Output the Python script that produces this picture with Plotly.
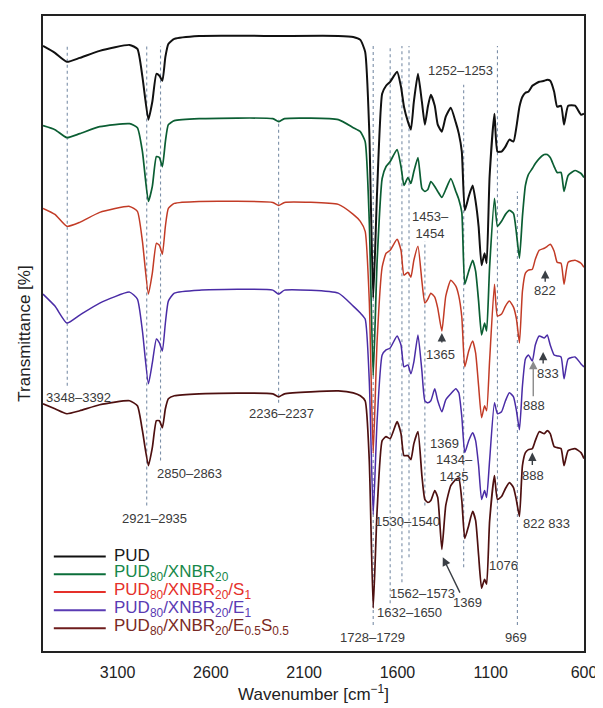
import plotly.graph_objects as go

# Wavenumber grid (cm^-1) shared by all spectra
wavenumber = [3500, 3436, 3372, 3303, 3196, 3036, 2994, 2967, 2935, 2914,
              2892, 2876, 2860, 2844, 2828, 2796, 2663, 2268, 2237, 2205,
              1917, 1837, 1799, 1773, 1751, 1730, 1709, 1682, 1661, 1639,
              1602, 1581, 1565, 1544, 1528, 1512, 1490, 1469, 1453, 1437,
              1421, 1400, 1384, 1362, 1341, 1314, 1287, 1271, 1255, 1239,
              1218, 1197, 1181, 1165, 1149, 1133, 1122, 1106, 1080, 1064,
              1042, 1021, 1000, 978, 962, 946, 930, 914, 898, 877,
              861, 840, 813, 797, 781, 760, 744, 723, 707, 685,
              648, 616, 600]

# Offset transmittance (a.u.)
t_pud = [607, 600, 591, 595, 602, 608, 604, 576, 533, 551,
         579, 577, 572, 596, 609, 614, 617, 617, 617, 617,
         617, 616, 613, 601, 521, 354, 461, 559, 567, 571,
         581, 566, 546, 531, 523, 551, 579, 551, 528, 546,
         558, 547, 528, 521, 536, 545, 530, 519, 501, 442,
         456, 467, 451, 426, 387, 399, 389, 476, 539, 501,
         501, 506, 513, 511, 526, 546, 556, 560, 561, 567,
         569, 571, 572, 573, 572, 561, 546, 547, 528, 547,
         547, 538, 539]

t_xnbr = [527, 523, 515, 519, 526, 529, 525, 501, 451, 466,
          496, 495, 486, 511, 528, 532, 534, 534, 531, 534,
          533, 525, 521, 511, 431, 276, 391, 474, 486, 491,
          503, 486, 467, 475, 469, 481, 495, 464, 461, 463,
          471, 466, 461, 455, 463, 474, 461, 453, 440, 368,
          381, 392, 381, 351, 317, 329, 321, 385, 454, 426,
          431, 438, 442, 439, 419, 394, 436, 467, 478, 484,
          489, 494, 498, 498, 495, 486, 480, 480, 461, 477,
          482, 479, 475]

t_s1 = [444, 438, 426, 430, 440, 446, 441, 411, 358, 379,
        409, 407, 398, 426, 444, 449, 451, 450, 447, 450,
        448, 438, 431, 421, 351, 198, 311, 385, 399, 402,
        413, 402, 377, 380, 375, 392, 406, 371, 349, 353,
        359, 355, 344, 321, 356, 372, 366, 356, 335, 285,
        301, 311, 299, 266, 234, 246, 241, 291, 368, 336,
        338, 346, 351, 345, 333, 309, 361, 379, 382, 383,
        393, 402, 404, 406, 408, 401, 390, 389, 368, 390,
        392, 389, 385]

t_e1 = [358, 346, 329, 337, 349, 360, 353, 321, 268, 289,
        313, 309, 301, 329, 351, 359, 362, 362, 358, 362,
        359, 346, 339, 333, 271, 137, 231, 297, 302, 304,
        316, 307, 285, 287, 278, 290, 317, 281, 251, 249,
        251, 263, 251, 240, 252, 258, 263, 259, 235, 199,
        211, 219, 211, 186, 152, 161, 154, 191, 249, 238,
        240, 251, 259, 255, 241, 222, 266, 293, 297, 291,
        307, 316, 314, 317, 307, 297, 296, 295, 273, 293,
        295, 288, 285]

t_e05s05 = [248, 243, 238, 241, 247, 251, 246, 221, 186, 204,
            231, 231, 224, 243, 253, 256, 258, 258, 255, 258,
            261, 259, 256, 251, 191, 43, 141, 211, 215, 213,
            230, 218, 196, 196, 192, 208, 220, 176, 152, 149,
            151, 161, 154, 102, 146, 166, 172, 173, 151, 113,
            126, 140, 131, 96, 63, 72, 67, 130, 176, 152,
            155, 163, 169, 164, 151, 135, 186, 199, 202, 203,
            211, 220, 218, 221, 218, 205, 204, 203, 186, 201,
            203, 199, 193]

series_names = ["PUD",
                "PUD<sub>80</sub>/XNBR<sub>20</sub>",
                "PUD<sub>80</sub>/XNBR<sub>20</sub>/S<sub>1</sub>",
                "PUD<sub>80</sub>/XNBR<sub>20</sub>/E<sub>1</sub>",
                "PUD<sub>80</sub>/XNBR<sub>20</sub>/E<sub>0.5</sub>S<sub>0.5</sub>"]
series_values = [t_pud, t_xnbr, t_s1, t_e1, t_e05s05]
line_colors = ["#111111", "#0b5e33", "#c23b26", "#4a2ca6", "#4e1010"]
key_colors = ["#111111", "#0b6e3a", "#e5302a", "#5a3bb3", "#6e1c1c"]
text_colors = ["#1a1a1a", "#17884a", "#e5302a", "#5a3bb3", "#7a2a24"]
line_widths = [2.0, 1.7, 1.5, 1.5, 1.7]

# Band guide lines: wavenumber, top value, bottom value
band_wn = [3370, 2944, 2870, 2237, 1730, 1639, 1576, 1538, 1453, 1245, 1064, 957]
band_top = [607, 607, 607, 533, 607, 607, 607, 607, 411, 568, 607, 461]
band_bottom = [266, 146, 191, 249, 26, 48, 69, 94, 146, 84, 94, 26]

# Text labels: text, wavenumber, value
label_text = ["3348–3392", "2921–2935", "2850–2863", "2236–2237", "1728–1729",
              "1632–1650", "1562–1573", "1530–1540", "1453–<br>1454", "1252–1253",
              "1076", "969", "1369", "1434–<br>1435", "1365", "822", "833",
              "888", "888", "822 833", "1369"]
label_wn = [3312, 2903, 2716, 2221, 1735, 1538, 1464, 1544, 1421, 1261,
            1032, 962, 1346, 1293, 1368, 808, 792, 866, 872, 803, 1224]
label_val = [254, 133, 178, 238, 14, 39, 58, 130, 427, 582,
             86, 14, 208, 184, 297, 362, 278, 246, 176, 128, 49]

# Arrows: tip (wn, value) and tail (wn, value)
arrow_tip_wn = [1362, 808, 819, 872, 877, 1357]
arrow_tip_val = [319, 382, 300, 291, 199, 94]
arrow_tail_wn = [1362, 808, 819, 872, 877, 1261]
arrow_tail_val = [308, 369, 287, 254, 185, 57]
arrow_colors = ["#3a3f45", "#3a3f45", "#3a3f45", "#8a8a8a", "#3a3f45", "#3a3f45"]

# Legend key layout (paper fractions of the plot area)
key_x0, key_x1, key_text_x = 0.020, 0.116, 0.128
key_rows = [0.149, 0.121, 0.093, 0.064, 0.036]

FONT = "Liberation Sans, Arial, sans-serif"

fig = go.Figure()
for name, vals, lc, lw in zip(series_names, series_values, line_colors, line_widths):
    fig.add_trace(go.Scatter(
        x=wavenumber, y=vals, mode="lines", name=name, showlegend=False,
        line=dict(color=lc, width=lw, shape="spline", smoothing=0.5),
    ))

for wn, top, bot in zip(band_wn, band_top, band_bottom):
    fig.add_shape(type="line", x0=wn, x1=wn, y0=bot, y1=top, xref="x", yref="y",
                  line=dict(color="#7b8fa8", width=1.1, dash="dot"), layer="below")

for t, wn, v in zip(label_text, label_wn, label_val):
    fig.add_annotation(x=wn, y=v, text=t, showarrow=False,
                       font=dict(family=FONT, size=13, color="#3a3a3a"))

for tw, tv, aw, av, c in zip(arrow_tip_wn, arrow_tip_val, arrow_tail_wn,
                             arrow_tail_val, arrow_colors):
    fig.add_annotation(x=tw, y=tv, ax=aw, ay=av, axref="x", ayref="y",
                       text="", showarrow=True, arrowhead=2, arrowsize=1.2,
                       arrowwidth=1.4, arrowcolor=c)

# Legend drawn as keys + coloured text
for name, kc, tc, ry in zip(series_names, key_colors, text_colors, key_rows):
    fig.add_shape(type="line", xref="paper", yref="paper",
                  x0=key_x0, x1=key_x1, y0=ry, y1=ry,
                  line=dict(color=kc, width=2))
    fig.add_annotation(xref="paper", yref="paper", x=key_text_x, y=ry + 0.002,
                       text=name, showarrow=False, xanchor="left", yanchor="middle",
                       font=dict(family=FONT, size=17, color=tc))

fig.update_layout(
    width=595, height=700,
    margin=dict(l=35, r=15, t=6, b=57),
    paper_bgcolor="white", plot_bgcolor="white",
    font=dict(family=FONT, size=16, color="#222"),
    showlegend=False,
    xaxis=dict(range=[3500, 600], tick0=600, dtick=500, showgrid=False,
               zeroline=False, showline=True, mirror=True, linecolor="#222",
               linewidth=2, ticks="", ticklabelstandoff=6,
               tickfont=dict(size=16, color="#222"),
               title=dict(text="Wavenumber [cm<sup>−1</sup>]",
                          font=dict(size=17, color="#222"), standoff=8)),
    yaxis=dict(range=[0, 637], showgrid=False, zeroline=False, showline=True,
               mirror=True, linecolor="#222", linewidth=2, ticks="",
               showticklabels=False,
               title=dict(text="Transmittance [%]",
                          font=dict(size=17, color="#222"), standoff=6)),
)

fig.write_html("out.html")
